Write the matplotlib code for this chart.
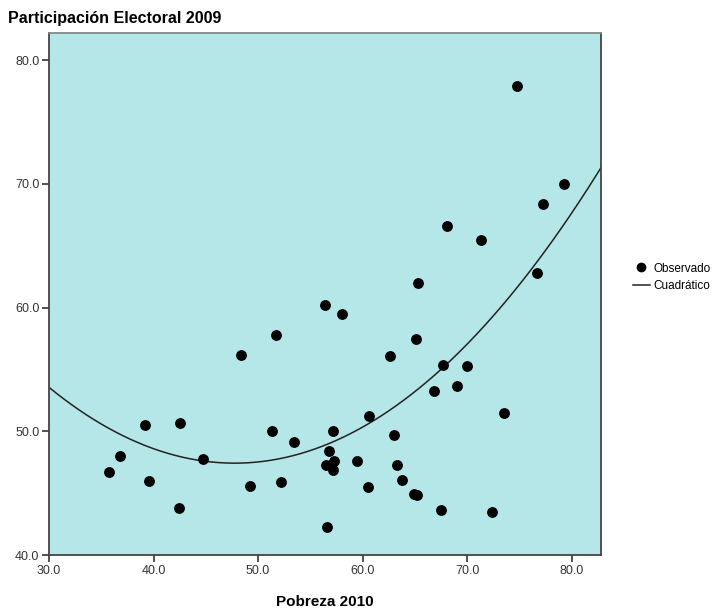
import matplotlib
matplotlib.use("Agg")
import matplotlib.pyplot as plt
import numpy as np
from matplotlib.lines import Line2D

plt.rcParams['font.family'] = ['Liberation Sans', 'DejaVu Sans']

# Pobreza 2010 (x) vs Participacion Electoral 2009 (y)
pobreza = [35.7, 36.8, 39.2, 39.6, 42.5, 42.4, 44.7, 48.4, 49.2, 51.3,
           51.7, 52.2, 53.4, 56.4, 58.0, 56.6, 56.5, 56.8, 57.2, 57.3,
           57.2, 59.5, 60.6, 60.5, 62.6, 63.0, 63.3, 63.8, 64.9, 65.2,
           65.1, 67.7, 66.8, 69.0, 70.0, 67.5, 72.4, 73.5, 74.8, 79.3,
           77.3, 76.7, 68.1, 71.3, 65.3]
participacion = [46.7, 48.0, 50.5, 46.0, 50.7, 43.8, 47.8, 56.2, 45.6, 50.0,
                 57.8, 45.9, 49.1, 60.2, 59.5, 42.3, 47.3, 48.4, 50.0, 47.6,
                 46.9, 47.6, 51.2, 45.5, 56.1, 49.7, 47.3, 46.1, 44.9, 44.85,
                 57.5, 55.4, 53.3, 53.7, 55.3, 43.6, 43.5, 51.5, 77.9, 70.0,
                 68.4, 62.8, 66.6, 65.5, 62.0]

x = np.array(pobreza)
y = np.array(participacion)

# ajuste cuadratico
coef = np.polyfit(x, y, 2)
xs = np.linspace(30, 82.8, 300)
ys = np.polyval(coef, xs)

fig = plt.figure(figsize=(7.22, 6.12), dpi=100)
ax = fig.add_axes([0.0679, 0.0931, 0.7645, 0.8529])
ax.set_facecolor('#b5e6e8')

ax.scatter(x, y, s=46, color='black', zorder=3)
ax.plot(xs, ys, color='#222222', linewidth=1.1, zorder=2)

ax.set_xlim(30, 82.8)
ax.set_ylim(40, 82.2)
ax.set_xticks([30, 40, 50, 60, 70, 80])
ax.set_yticks([40, 50, 60, 70, 80])
ax.xaxis.set_major_formatter(matplotlib.ticker.FormatStrFormatter('%.1f'))
ax.yaxis.set_major_formatter(matplotlib.ticker.FormatStrFormatter('%.1f'))
ax.tick_params(direction='out', length=5, width=1.2, color='#333333',
               labelsize=9, labelcolor='#333333', pad=2)
for side in ['left', 'bottom', 'right']:
    ax.spines[side].set_color('#444444')
    ax.spines[side].set_linewidth(1.3)
ax.spines['top'].set_color('#888888')
ax.spines['top'].set_linewidth(1.3)

ax.set_xlabel('Pobreza 2010', fontsize=11, fontweight='bold', labelpad=13)
fig.text(0.011, 0.962, 'Participación Electoral 2009', fontsize=11.5,
         fontweight='bold', ha='left', va='baseline')

handles = [Line2D([], [], marker='o', color='black', linestyle='None', markersize=6),
           Line2D([], [], color='#222222', linewidth=1.1)]
fig.legend(handles, ['Observado', 'Cuadrático'], loc='center left',
           bbox_to_anchor=(0.868, 0.547), frameon=False, fontsize=8.5,
           handlelength=1.5, handletextpad=0.25, labelspacing=0.45,
           borderpad=0)

fig.savefig('out.png', dpi=100)
